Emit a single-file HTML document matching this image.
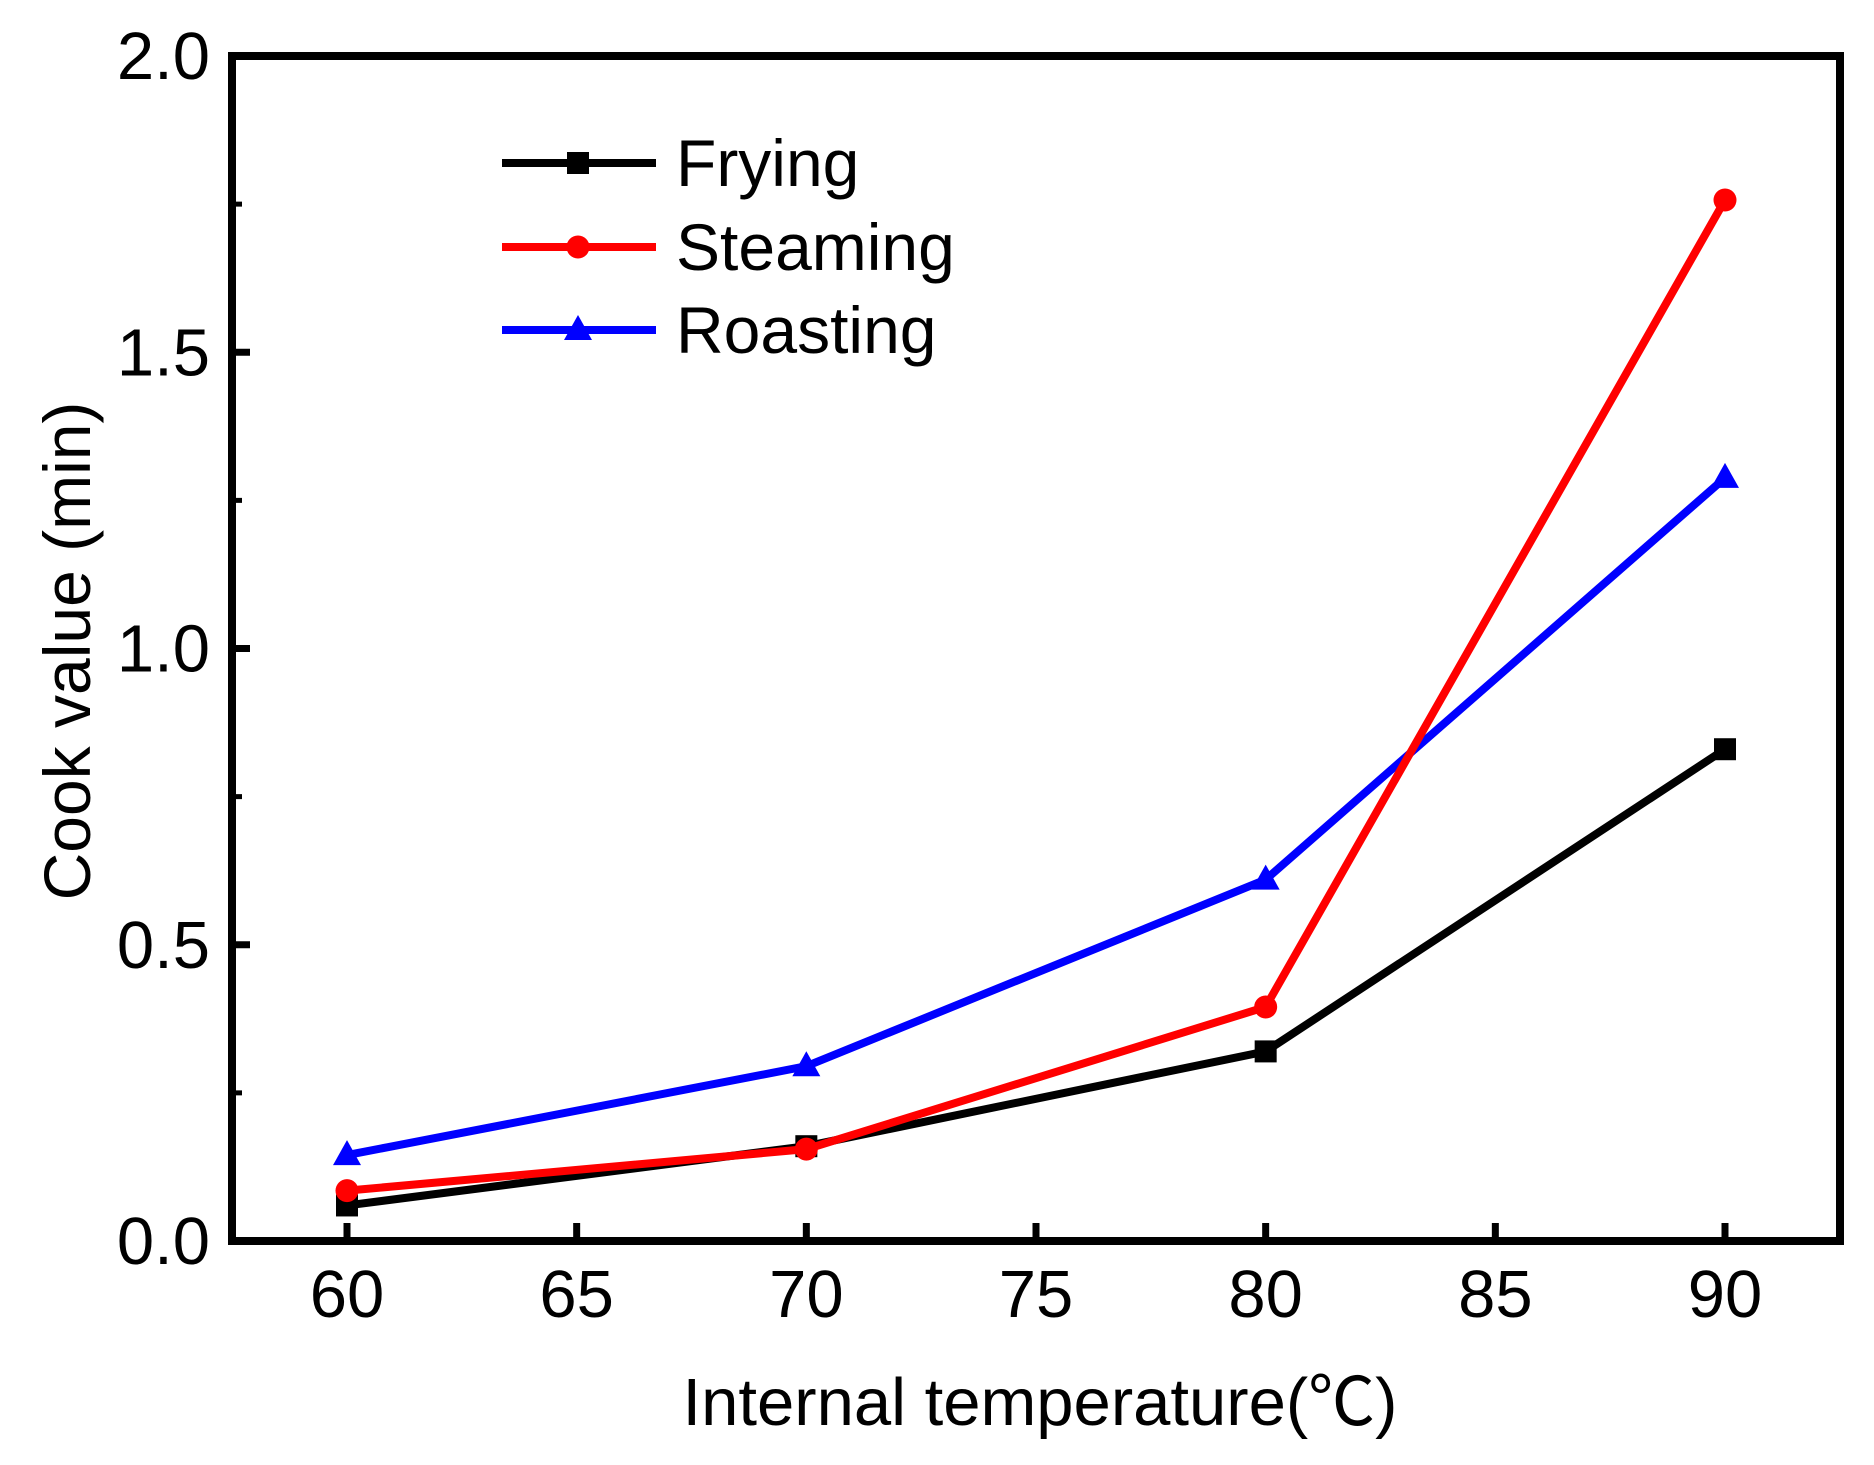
<!DOCTYPE html>
<html><head><meta charset="utf-8"><style>
html,body{margin:0;padding:0;background:#fff;}
svg{display:block;font-family:"Liberation Sans","Noto Sans CJK SC",sans-serif;}
</style></head><body>
<svg id="chart" width="1874" height="1465" viewBox="0 0 1874 1465">
<g id="axes"></g>
<g id="series"></g>
<g id="legend"></g>
<text x="1040" y="1425" font-size="67" text-anchor="middle">Internal temperature(℃)</text>
<text transform="translate(90,651) rotate(-90)" font-size="66" text-anchor="middle">Cook value (min)</text>
</svg>
<script>
const categories = [60, 70, 80, 90];
const fryingValues = [0.06, 0.16, 0.32, 0.83];
const steamingValues = [0.085, 0.155, 0.395, 1.757];
const roastingValues = [0.145, 0.295, 0.61, 1.288];
const xTickLabels = [60, 65, 70, 75, 80, 85, 90];
const yTickLabels = ["0.0", "0.5", "1.0", "1.5", "2.0"];
const yMinorTicks = [0.25, 0.75, 1.25, 1.75];
const seriesNames = ["Frying", "Steaming", "Roasting"];

const NS = "http://www.w3.org/2000/svg";
const L = 232, R = 1840, T = 56, B = 1241;
const X = v => 347 + (v - 60) * (1725 - 347) / 30;
const Y = v => B - v * (B - T) / 2;
function mk(tag, attrs, parent) { const e = document.createElementNS(NS, tag); for (const k in attrs) e.setAttribute(k, attrs[k]); parent.appendChild(e); return e; }

const axes = document.getElementById('axes');
const frame = mk('rect', {x: L, y: T, width: R - L, height: B - T, fill: 'none', stroke: '#000', 'stroke-width': 8}, axes);


xTickLabels.forEach(v => {
  const t = mk('line', {x1: X(v), x2: X(v), y1: B, y2: B - 18, stroke: '#000', 'stroke-width': 7}, axes);
  
  
  const tx = mk('text', {x: X(v), y: B + 76, 'font-size': 67, 'text-anchor': 'middle'}, axes);
  tx.textContent = v;
  
  
});
yTickLabels.forEach(s => {
  const v = parseFloat(s);
  const t = mk('line', {x1: L, x2: L + 18, y1: Y(v), y2: Y(v), stroke: '#000', 'stroke-width': 7}, axes);
  
  
  const tx = mk('text', {x: 210, y: Y(v) + 23, 'font-size': 67, 'text-anchor': 'end'}, axes);
  tx.textContent = s;
  
  
});
yMinorTicks.forEach(v => {
  const t = mk('line', {x1: L, x2: L + 10, y1: Y(v), y2: Y(v), stroke: '#000', 'stroke-width': 5}, axes);
  
  
});

function marker(type, cx, cy, color, parent) {
  let m;
  if (type === 'square') m = mk('rect', {x: cx - 11, y: cy - 11, width: 22, height: 22, fill: color}, parent);
  else if (type === 'circle') m = mk('circle', {cx: cx, cy: cy, r: 11.5, fill: color}, parent);
  else m = mk('polygon', {points: `${cx},${cy - 15} ${cx - 14},${cy + 10} ${cx + 14},${cy + 10}`, fill: color}, parent);
  return m;
}
const seriesDefs = [
  {vals: fryingValues, color: '#000', type: 'square', name: 'frying'},
  {vals: steamingValues, color: '#ff0000', type: 'circle', name: 'steaming'},
  {vals: roastingValues, color: '#0000ff', type: 'triangle', name: 'roasting'}
];
const sg = document.getElementById('series');
[2, 0, 1].forEach(i => {
  const s = seriesDefs[i];
  const pts = categories.map((c, j) => X(c) + ',' + Y(s.vals[j])).join(' ');
  const pl = mk('polyline', {points: pts, fill: 'none', stroke: s.color, 'stroke-width': 8, 'stroke-linejoin': 'round'}, sg);
  
  
  categories.forEach((c, j) => {
    const m = marker(s.type, X(c), Y(s.vals[j]), s.color, sg);
    
    
  });
});

const lg = document.getElementById('legend');
const rowsY = [163, 247, 330];
seriesDefs.forEach((s, i) => {
  const ln = mk('line', {x1: 502, x2: 656, y1: rowsY[i], y2: rowsY[i], stroke: s.color, 'stroke-width': 8}, lg);
  
  
  const m = marker(s.type, 578, rowsY[i], s.color, lg);
  
  
  const tx = mk('text', {x: 676, y: rowsY[i] + 23, 'font-size': 66}, lg);
  tx.textContent = seriesNames[i];
  
  
});
</script>
</body></html>
